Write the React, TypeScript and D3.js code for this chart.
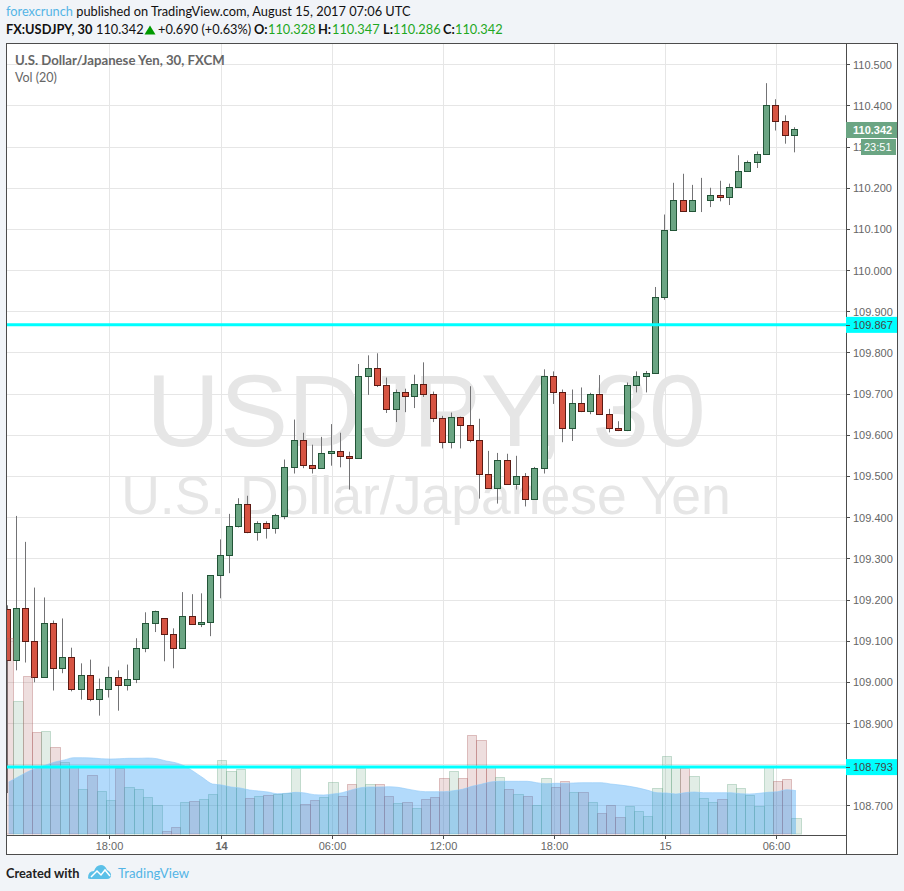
import React from 'react';
import * as d3 from 'd3';

const opens = [109.176, 109.054, 109.18, 109.1, 109.012, 109.144, 109.034, 109.061, 108.983, 109.017, 108.958, 108.983, 109.012, 108.993, 109.007, 109.083, 109.144, 109.154, 109.117, 109.083, 109.161, 109.141, 109.146, 109.259, 109.307, 109.378, 109.432, 109.363, 109.385, 109.373, 109.402, 109.522, 109.588, 109.527, 109.52, 109.556, 109.561, 109.549, 109.544, 109.744, 109.763, 109.72, 109.663, 109.705, 109.695, 109.724, 109.698, 109.641, 109.583, 109.644, 109.624, 109.588, 109.505, 109.471, 109.539, 109.48, 109.5, 109.444, 109.52, 109.744, 109.705, 109.617, 109.678, 109.658, 109.698, 109.651, 109.617, 109.611, 109.722, 109.744, 109.751, 109.934, 110.098, 110.171, 110.144, 110.171, 110.171, 110.183, 110.178, 110.202, 110.241, 110.263, 110.283, 110.4, 110.363, 110.328];
const highs = [109.186, 109.403, 109.34, 109.229, 109.205, 109.149, 109.154, 109.083, 109.045, 109.054, 109.008, 109.037, 109.028, 109.042, 109.106, 109.169, 109.173, 109.154, 109.13, 109.218, 109.213, 109.215, 109.259, 109.346, 109.408, 109.446, 109.452, 109.39, 109.39, 109.408, 109.54, 109.637, 109.605, 109.576, 109.595, 109.626, 109.605, 109.559, 109.772, 109.793, 109.798, 109.739, 109.71, 109.712, 109.746, 109.776, 109.705, 109.646, 109.654, 109.644, 109.718, 109.639, 109.561, 109.556, 109.554, 109.549, 109.507, 109.522, 109.759, 109.754, 109.71, 109.71, 109.715, 109.702, 109.745, 109.663, 109.633, 109.727, 109.754, 109.755, 109.959, 110.135, 110.212, 110.234, 110.207, 110.224, 110.2, 110.217, 110.21, 110.279, 110.266, 110.288, 110.454, 110.415, 110.376, 110.347];
const lows = [108.73, 109.028, 109.047, 108.999, 109.012, 108.979, 109.021, 108.977, 108.957, 108.953, 108.918, 108.962, 108.93, 108.979, 108.997, 109.072, 109.121, 109.05, 109.033, 109.083, 109.141, 109.133, 109.111, 109.203, 109.264, 109.375, 109.361, 109.343, 109.348, 109.36, 109.395, 109.506, 109.519, 109.506, 109.517, 109.525, 109.521, 109.467, 109.544, 109.697, 109.716, 109.653, 109.631, 109.655, 109.665, 109.692, 109.631, 109.567, 109.567, 109.567, 109.582, 109.445, 109.471, 109.433, 109.48, 109.467, 109.426, 109.444, 109.506, 109.675, 109.582, 109.585, 109.655, 109.65, 109.648, 109.606, 109.609, 109.609, 109.703, 109.703, 109.751, 109.928, 110.098, 110.144, 110.141, 110.141, 110.153, 110.167, 110.158, 110.202, 110.239, 110.248, 110.283, 110.339, 110.307, 110.286];
const closes = [109.054, 109.18, 109.1, 109.012, 109.144, 109.034, 109.061, 108.983, 109.017, 108.958, 108.983, 109.012, 108.993, 109.007, 109.083, 109.144, 109.173, 109.117, 109.083, 109.161, 109.141, 109.146, 109.259, 109.307, 109.378, 109.432, 109.363, 109.385, 109.373, 109.405, 109.522, 109.588, 109.527, 109.52, 109.556, 109.561, 109.549, 109.544, 109.744, 109.763, 109.72, 109.663, 109.705, 109.695, 109.724, 109.698, 109.641, 109.583, 109.644, 109.624, 109.588, 109.505, 109.471, 109.539, 109.48, 109.5, 109.444, 109.52, 109.744, 109.705, 109.617, 109.678, 109.658, 109.698, 109.65, 109.616, 109.611, 109.722, 109.744, 109.751, 109.934, 110.098, 110.171, 110.144, 110.171, 110.171, 110.183, 110.178, 110.202, 110.241, 110.263, 110.283, 110.4, 110.363, 110.329, 110.342];
const volumes = [1960, 1330, 1580, 1020, 1030, 870, 720, 680, 450, 590, 430, 340, 660, 470, 450, 370, 290, 30, 70, 320, 330, 350, 400, 740, 630, 650, 360, 380, 390, 400, 410, 660, 300, 340, 370, 520, 380, 500, 660, 500, 500, 380, 310, 320, 260, 350, 370, 560, 630, 560, 990, 940, 670, 570, 450, 400, 380, 290, 560, 470, 530, 420, 420, 320, 210, 290, 170, 280, 230, 180, 460, 780, 660, 660, 580, 360, 320, 350, 500, 460, 390, 280, 670, 530, 550, 160];
const volumeMA = [520, 570, 620, 660, 690, 720, 740, 763, 763, 760, 753, 750, 753, 757, 757, 760, 753, 730, 713, 680, 623, 560, 500, 490, 470, 460, 440, 430, 420, 403, 407, 417, 410, 393, 390, 400, 413, 440, 463, 470, 470, 473, 467, 450, 433, 423, 423, 423, 433, 447, 477, 497, 520, 527, 527, 527, 527, 513, 503, 507, 507, 510, 513, 513, 513, 500, 490, 477, 460, 437, 413, 410, 400, 413, 420, 413, 413, 413, 413, 403, 400, 407, 417, 423, 443, 433];

const priceTicks = [110.5, 110.4, 110.3, 110.2, 110.1, 110.0, 109.9, 109.8, 109.7, 109.6, 109.5, 109.4, 109.3, 109.2, 109.1, 109.0, 108.9, 108.8, 108.7];
const timeTickIndex = [11, 23, 35, 47, 59, 71, 83];
const timeTickLabels = ['18:00', '14', '06:00', '12:00', '18:00', '15', '06:00'];
const hLevels = [109.867, 108.793];
const lastPrice = 110.342;

const W = 904;
const H = 891;
const plot = { left: 7, right: 846, top: 44, bottom: 835 };

const x = d3.scaleLinear().domain([0, 85]).range([7.0, 794.3]);
const y = d3.scaleLinear().domain([110.4, 108.7]).range([105.4, 805.4]);
const yVol = d3.scaleLinear().domain([0, 2000]).range([834, 634]);

const GREEN = '#6ba583';
const GREEN_DARK = '#225437';
const RED = '#d75442';
const RED_DARK = '#5b1a13';
const WICK = '#737375';
const GRID = '#e6e6e6';
const CYAN = '#00ffff';
const AXIS = '#4c4c4c';
const TXT_FONT = 'Lato, sans-serif';
const AXIS_FONT = '"Liberation Sans", Arial, sans-serif';
const VOL_OFFSET = 1.7;

const crisp = (v: number) => Math.round(v) + 0.5;
const candleX = (i: number) => Math.floor(x(i)) + 0.5;
const tickX = (i: number) => Math.floor(x(i) + 1) + 0.5;
const volEdge = (i: number) => crisp(x(i) + VOL_OFFSET - 4.63);

const volArea = d3
  .area<number>()
  .x((_, i) => x(i) + VOL_OFFSET)
  .y0(yVol(0))
  .y1((d) => yVol(d))
  .curve(d3.curveMonotoneX);

const volLine = d3
  .line<number>()
  .x((_, i) => x(i) + VOL_OFFSET)
  .y((d) => yVol(d))
  .curve(d3.curveMonotoneX);

const App: React.FC = () => {
  return (
    <svg width={W} height={H} style={{ position: 'absolute', left: 0, top: 0, background: '#f1f4f8' }}>
      <defs>
        <clipPath id="plotClip">
          <rect x={plot.left} y={plot.top} width={plot.right - plot.left} height={plot.bottom - plot.top} />
        </clipPath>
      </defs>

      {/* header */}
      <text x={6} y={16} fontFamily={TXT_FONT} fontSize={12.8} fill="#111">
        <tspan fill="#54b4e6">forexcrunch</tspan> published on TradingView.com, August 15, 2017 07:06 UTC
      </text>
      <g fontFamily={TXT_FONT} fontSize={12.8} fill="#111">
        <text x={6} y={34} fontWeight="bold">FX:USDJPY, 30</text>
        <text x={96} y={34}>110.342</text>
        <text x={158} y={34}>+0.690 (+0.63%)</text>
        <text x={254} y={34} fontWeight="bold">O:</text>
        <text x={268} y={34} fill="#1fa81f">110.328</text>
        <text x={318} y={34} fontWeight="bold">H:</text>
        <text x={332} y={34} fill="#1fa81f">110.347</text>
        <text x={383} y={34} fontWeight="bold">L:</text>
        <text x={393} y={34} fill="#1fa81f">110.286</text>
        <text x={443} y={34} fontWeight="bold">C:</text>
        <text x={455} y={34} fill="#1fa81f">110.342</text>
      </g>
      <path d="M144.5 34.5 L150 25.5 L155.5 34.5 Z" fill="#009a00" />

      {/* chart panel */}
      <rect x={6.5} y={43.5} width={891} height={811} fill="#fff" stroke={AXIS} strokeWidth={1} />

      {/* watermark */}
      <text x={426} y={446} textAnchor="middle" fontFamily={AXIS_FONT} fontSize={102} fill={GRID}>USDJPY, 30</text>
      <text x={426} y={514} textAnchor="middle" fontFamily={AXIS_FONT} fontSize={53.5} fill={GRID}>U.S. Dollar/Japanese Yen</text>

      {/* grid */}
      {priceTicks.map((t) => (
        <line key={t} x1={plot.left} x2={plot.right} y1={crisp(y(t))} y2={crisp(y(t))} stroke={GRID} />
      ))}
      {timeTickIndex.map((t) => (
        <line key={t} x1={tickX(t)} x2={tickX(t)} y1={plot.top} y2={plot.bottom} stroke={GRID} />
      ))}

      {/* legend */}
      <text x={15} y={65} fontFamily={TXT_FONT} fontSize={13.2} fontWeight="bold" fill="#666">U.S. Dollar/Japanese Yen, 30, FXCM</text>
      <text x={15} y={82} fontFamily={TXT_FONT} fontSize={12.5} fill="#666">Vol (20)</text>

      <g clipPath="url(#plotClip)">
        {/* candles */}
        {closes.map((c, i) => {
          const up = c >= opens[i];
          const cx = candleX(i);
          const top = crisp(y(Math.max(opens[i], c)));
          const bot = crisp(y(Math.min(opens[i], c)));
          return (
            <g key={i}>
              <line x1={cx} x2={cx} y1={y(highs[i])} y2={y(lows[i])} stroke={WICK} />
              <rect
                x={cx - 3}
                y={top}
                width={6}
                height={Math.max(bot - top, 0)}
                fill={up ? GREEN : RED}
                stroke={up ? GREEN_DARK : RED_DARK}
              />
            </g>
          );
        })}

        {/* volume */}
        {volumes.map((v, i) => {
          const up = closes[i] >= opens[i];
          const left = volEdge(i);
          return (
            <rect
              key={i}
              x={left}
              y={crisp(yVol(v))}
              width={volEdge(i + 1) - left}
              height={yVol(0) - crisp(yVol(v))}
              fill={up ? '#6ba583' : '#a85c5c'}
              fillOpacity={0.2}
              stroke={up ? '#6ba583' : '#a85c5c'}
              strokeOpacity={0.35}
            />
          );
        })}
        <path d={volArea(volumeMA) ?? ''} fill="#2196f3" fillOpacity={0.35} />
        <path d={volLine(volumeMA) ?? ''} fill="none" stroke="#90caf9" strokeOpacity={0.6} />

        {/* horizontal levels */}
        {hLevels.map((l) => (
          <line key={l} x1={plot.left} x2={plot.right} y1={y(l)} y2={y(l)} stroke={CYAN} strokeWidth={3} />
        ))}
      </g>

      {/* axes */}
      <line x1={846.5} x2={846.5} y1={43.5} y2={854.5} stroke={AXIS} />
      <line x1={6.5} x2={846.5} y1={835.5} y2={835.5} stroke={AXIS} />

      {priceTicks.map((t) => (
        <g key={t}>
          <line x1={846} x2={850} y1={crisp(y(t))} y2={crisp(y(t))} stroke={AXIS} />
          {/* the label of a tick that sits fully under a level tag stays hidden, as in the source chart */}
          {!hLevels.some((l) => Math.abs(y(l) - y(t)) < 6) && (
            <text x={853} y={y(t) + 4.5} fontFamily={AXIS_FONT} fontSize={11} fill="#666">{t.toFixed(3)}</text>
          )}
        </g>
      ))}
      {timeTickIndex.map((t, i) => (
        <g key={t}>
          <line x1={tickX(t)} x2={tickX(t)} y1={835} y2={839} stroke={AXIS} />
          <text
            x={tickX(t)}
            y={849.5}
            textAnchor="middle"
            fontFamily={AXIS_FONT}
            fontSize={11}
            fontWeight={timeTickLabels[i] === '14' ? 'bold' : 'normal'}
            fill="#666"
          >
            {timeTickLabels[i]}
          </text>
        </g>
      ))}

      {/* price labels */}
      {hLevels.map((l) => (
        <g key={l}>
          <rect x={846} y={y(l) - 8} width={51} height={16} fill={CYAN} />
          <line x1={846} x2={850} y1={crisp(y(l))} y2={crisp(y(l))} stroke={AXIS} />
          <text x={853} y={y(l) + 4} fontFamily={AXIS_FONT} fontSize={11} fill="#444">{l.toFixed(3)}</text>
        </g>
      ))}
      <rect x={846} y={122} width={51} height={16} fill={GREEN} />
      <text x={853} y={134} fontFamily={AXIS_FONT} fontSize={11} fontWeight="bold" fill="#fff">{lastPrice.toFixed(3)}</text>
      <rect x={861} y={139} width={35} height={16} fill={GREEN} />
      <text x={864} y={151} fontFamily={AXIS_FONT} fontSize={11} fill="#fff">23:51</text>

      {/* footer */}
      <text x={6} y={878} fontFamily={TXT_FONT} fontSize={12.8} fontWeight="bold" fill="#222">Created with</text>
      <path d="M88 878 Q88 871 94 871 Q96 865 101 865 Q105 865 107 870 Q111 872 111 875 Q111 879 107 879 L92 879 Q88 879 88 878 Z" fill="#5bc0e8" />
      <path d="M91 877 L97 871 L101 875 L105 870 L110 876" fill="none" stroke="#fff" strokeWidth={1.5} />
      <text x={118} y={878} fontFamily={TXT_FONT} fontSize={13.2} fill="#54b4e6">TradingView</text>
    </svg>
  );
};

export default App;
